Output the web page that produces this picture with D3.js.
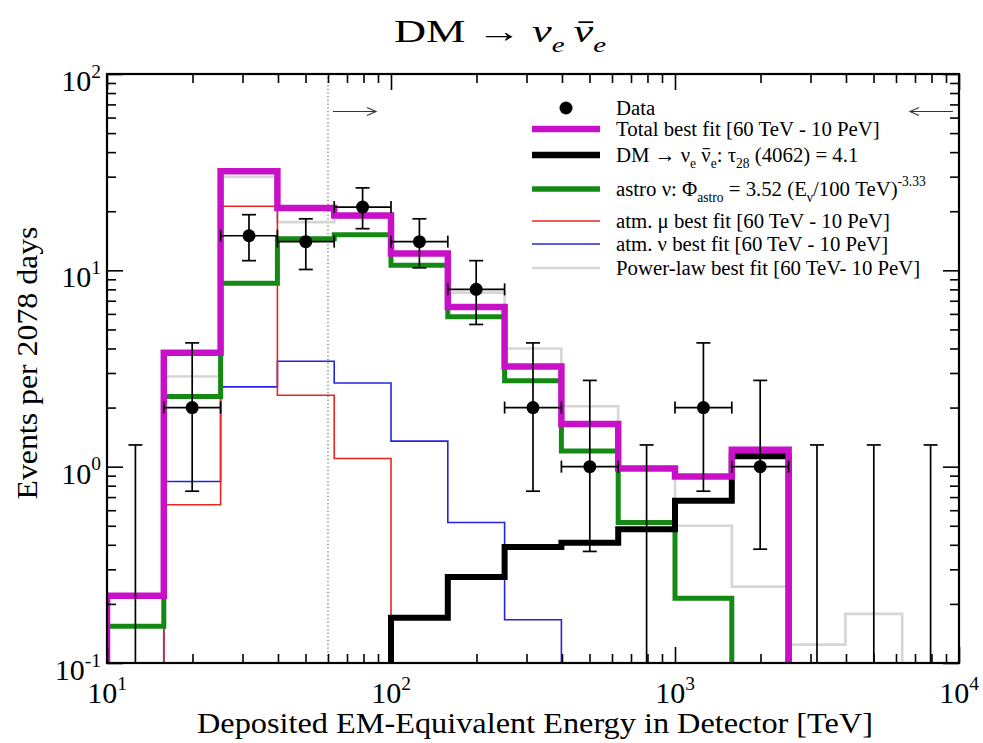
<!DOCTYPE html>
<html lang="en">
<head>
<meta charset="utf-8">
<script src="https://cdn.jsdelivr.net/npm/d3@7"></script>
<style>
  body { margin: 0; background: #fff; }
  text { font-family: "Liberation Serif", "Times New Roman", serif; fill: #000; }
</style>
</head>
<body>
<div id="chart"></div>
<script>
// bin edges in TeV (5 bins per decade)
var binEdges = [10, 15.85, 25.12, 39.81, 63.10, 100, 158.5, 251.2, 398.1, 631.0, 1000, 1585, 2512, 3981, 6310, 10000];
var binCenters = [12.59, 19.95, 31.62, 50.12, 79.43, 125.9, 199.5, 316.2, 501.2, 794.3, 1259, 1995, 3162, 5012, 7943];

// expected events per bin (0 = below the plotted range)
var totalFit = [0.22, 3.8, 32, 20.8, 19.0, 12.2, 6.5, 3.24, 1.65, 0.98, 0.89, 1.22, 0, 0, 0];
var dmFit    = [0, 0, 0, 0, 0, 0.17, 0.274, 0.39, 0.41, 0.48, 0.67, 1.13, 0, 0, 0];
var astroFit = [0.154, 2.28, 8.6, 14.5, 15.2, 10.6, 5.8, 2.74, 1.2, 0.52, 0.214, 0, 0, 0, 0];
var atmMu    = [0, 0.64, 21.2, 2.31, 1.1, 0, 0, 0, 0, 0, 0, 0, 0, 0, 0];
var atmNu    = [0, 0.84, 2.55, 3.44, 2.67, 1.35, 0.52, 0.166, 0, 0, 0, 0, 0, 0, 0];
var powerLaw = [0, 2.88, 29.9, 17.6, 18.5, 12, 7.7, 4.0, 2.03, 1.0, 0.50, 0.245, 0.124, 0.178, 0];

// observed events and error bars
var dataCounts = [0, 2, 15, 14, 21, 14, 8, 2, 1, 0, 2, 1, 0, 0, 0];
var errLow  = [0, 0.75, 11.2, 10.1, 16.3, 10.3, 5.3, 0.75, 0.37, 0, 0.75, 0.38, 0, 0, 0];
var errHigh = [1.29, 4.27, 19.2, 18.3, 26.3, 18.3, 11.2, 4.27, 2.75, 1.29, 4.27, 2.75, 1.29, 1.29, 1.29];

var fitRange = [60, 10000];
var xMajor = [10, 100, 1000, 10000];
var yMajor = [0.1, 1, 10, 100];
var xExp = ["1", "2", "3", "4"];
var yExp = ["-1", "0", "1", "2"];

var W = 983, H = 743;
var pL = 107, pR = 959, pT = 74, pB = 663;

var svg = d3.select("#chart").append("svg")
  .attr("width", W).attr("height", H);

var x = d3.scaleLog().domain([10, 10000]).range([pL, pR]);
var y = d3.scaleLog().domain([0.1, 100]).range([pB, pT]);

function yv(v) { return v > 0 ? y(v) : pB + 25; }

svg.append("clipPath").attr("id", "plotClip")
  .append("rect").attr("x", pL).attr("y", pT)
  .attr("width", pR - pL).attr("height", pB - pT);

// helper for text with sub/superscripts; returns tspans
function richText(sel, parts, size) {
  var cur = 0, spans = [];
  parts.forEach(function(p) {
    var shift = p.sub ? size * 0.32 : (p.sup ? -size * 0.45 : 0);
    var ts = sel.append("tspan").attr("dy", shift - cur).text(p.t);
    if (p.sub || p.sup) ts.attr("font-size", size * 0.65);
    if (p.it) ts.attr("font-style", "italic");
    cur = shift;
    spans.push(ts);
  });
  return spans;
}

// bar over a character (anti-neutrino)
function barOver(textSel, span, baseline, size, slant) {
  var node = span.node();
  var box = node.getExtentOfChar(0);
  var x0 = box.x + box.width * 0.15 + slant, x1 = box.x + box.width * 0.9 + slant;
  var yy = baseline - size * 0.62;
  svg.append("line").attr("x1", x0).attr("x2", x1).attr("y1", yy).attr("y2", yy)
    .attr("stroke", "#000").attr("stroke-width", size * 0.055);
}

// fit range marker
svg.append("line")
  .attr("x1", x(fitRange[0])).attr("x2", x(fitRange[0]))
  .attr("y1", pT).attr("y2", pB)
  .attr("stroke", "#444").attr("stroke-width", 1)
  .attr("stroke-dasharray", "1.2,2.5");

function arrow(x1, x2, yy) {
  var dir = x2 > x1 ? 1 : -1;
  var g = svg.append("g").attr("stroke", "#333").attr("stroke-width", 1.1).attr("fill", "none");
  g.append("line").attr("x1", x1).attr("x2", x2).attr("y1", yy).attr("y2", yy);
  g.append("path").attr("d", "M" + (x2 - dir * 9) + "," + (yy - 4) + "L" + x2 + "," + yy + "L" + (x2 - dir * 9) + "," + (yy + 4));
}
arrow(x(fitRange[0]) + 5, x(fitRange[0]) + 48, 111.5);
arrow(x(fitRange[1]) - 6, x(fitRange[1]) - 49, 111.5);

// histograms
var series = [
  { vals: powerLaw, color: "#d6d6d6", w: 2.6 },
  { vals: atmNu,    color: "#2424dc", w: 1.6 },
  { vals: atmMu,    color: "#e8261e", w: 1.6 },
  { vals: astroFit, color: "#148a14", w: 5 },
  { vals: dmFit,    color: "#000000", w: 6 },
  { vals: totalFit, color: "#c810c8", w: 6.5 }
];

var stepLine = d3.line()
  .x(function(d) { return x(d[0]); })
  .y(function(d) { return yv(d[1]); });

var histG = svg.append("g").attr("clip-path", "url(#plotClip)");
series.forEach(function(s) {
  var pts = [[binEdges[0], 0]];
  s.vals.forEach(function(v, i) {
    pts.push([binEdges[i], v], [binEdges[i + 1], v]);
  });
  pts.push([binEdges[binEdges.length - 1], 0]);
  histG.append("path")
    .attr("d", stepLine(pts))
    .attr("fill", "none")
    .attr("stroke", s.color)
    .attr("stroke-width", s.w)
    .attr("stroke-linejoin", "miter");
});

// data points with error bars
var dataG = svg.append("g").attr("stroke", "#000").attr("stroke-width", 1.7);
binCenters.forEach(function(c, i) {
  var cx = x(c);
  var yTop = y(errHigh[i]);
  if (dataCounts[i] > 0) {
    var yLow = y(errLow[i]), cy = y(dataCounts[i]);
    var xl = x(binEdges[i]), xr = x(binEdges[i + 1]);
    dataG.append("line").attr("x1", cx).attr("x2", cx).attr("y1", yLow).attr("y2", yTop);
    dataG.append("line").attr("x1", cx - 7).attr("x2", cx + 7).attr("y1", yLow).attr("y2", yLow);
    dataG.append("line").attr("x1", cx - 7).attr("x2", cx + 7).attr("y1", yTop).attr("y2", yTop);
    dataG.append("line").attr("x1", xl).attr("x2", xr).attr("y1", cy).attr("y2", cy);
    dataG.append("line").attr("x1", xl).attr("x2", xl).attr("y1", cy - 6).attr("y2", cy + 6);
    dataG.append("line").attr("x1", xr).attr("x2", xr).attr("y1", cy - 6).attr("y2", cy + 6);
    dataG.append("circle").attr("cx", cx).attr("cy", cy).attr("r", 6.5).attr("fill", "#000").attr("stroke", "none");
  } else {
    dataG.append("line").attr("x1", cx).attr("x2", cx).attr("y1", pB).attr("y2", yTop);
    dataG.append("line").attr("x1", cx - 7).attr("x2", cx + 7).attr("y1", yTop).attr("y2", yTop);
  }
});

// axes: inward ticks on all four sides
var xMinor = x.ticks().filter(function(t) { return xMajor.indexOf(t) < 0; });
var yMinor = y.ticks().filter(function(t) { return yMajor.indexOf(t) < 0; });

function addAxis(axisFn, scale, majors, minors, transform) {
  [[majors, -16], [minors, -9]].forEach(function(set) {
    svg.append("g").attr("transform", transform)
      .call(axisFn(scale).tickValues(set[0]).tickSize(set[1]).tickSizeOuter(0).tickFormat(""))
      .call(function(g) {
        g.select(".domain").remove();
        g.selectAll(".tick line").attr("stroke", "#000").attr("stroke-width", 1.6);
      });
  });
}
addAxis(d3.axisBottom, x, xMajor, xMinor, "translate(0," + pB + ")");
addAxis(d3.axisTop, x, xMajor, xMinor, "translate(0," + pT + ")");
addAxis(d3.axisLeft, y, yMajor, yMinor, "translate(" + pL + ",0)");
addAxis(d3.axisRight, y, yMajor, yMinor, "translate(" + pR + ",0)");

svg.append("rect")
  .attr("x", pL).attr("y", pT)
  .attr("width", pR - pL).attr("height", pB - pT)
  .attr("fill", "none").attr("stroke", "#000").attr("stroke-width", 2.2);

// tick labels
xMajor.forEach(function(v, i) {
  var t = svg.append("text").attr("x", x(v)).attr("y", 703)
    .attr("text-anchor", "middle").attr("font-size", 30);
  richText(t, [{ t: "10" }, { t: xExp[i], sup: true }], 30);
});
yMajor.forEach(function(v, i) {
  var t = svg.append("text").attr("x", 101).attr("y", y(v) + 17)
    .attr("text-anchor", "end").attr("font-size", 30);
  richText(t, [{ t: "10" }, { t: yExp[i], sup: true }], 30);
});

// axis titles
svg.append("text")
  .attr("x", 535).attr("y", 733)
  .attr("text-anchor", "middle").attr("font-size", 30)
  .attr("textLength", 676).attr("lengthAdjust", "spacingAndGlyphs")
  .text("Deposited EM-Equivalent Energy in Detector [TeV]");

svg.append("text")
  .attr("transform", "translate(37,363) rotate(-90)")
  .attr("text-anchor", "middle").attr("font-size", 30)
  .attr("textLength", 273).attr("lengthAdjust", "spacingAndGlyphs")
  .text("Events per 2078 days");

// title
var title = svg.append("text").attr("x", 500).attr("y", 42)
  .attr("text-anchor", "middle").attr("font-size", 32)
  .attr("textLength", 212).attr("lengthAdjust", "spacingAndGlyphs");
var tSpans = richText(title, [
  { t: "DM \u2192 " }, { t: "\u03BD", it: true }, { t: "e", it: true, sub: true },
  { t: "\u2009" }, { t: "\u03BD", it: true }, { t: "e", it: true, sub: true }
], 32);
barOver(title, tSpans[4], 42, 32, 2);

// legend
var legendRows = [
  { y: 108, dot: true },
  { y: 129, color: "#c810c8", w: 6.5 },
  { y: 155, color: "#000000", w: 6.5 },
  { y: 189, color: "#148a14", w: 5.5 },
  { y: 221, color: "#e8261e", w: 1.6 },
  { y: 244, color: "#2424dc", w: 1.6 },
  { y: 268, color: "#d6d6d6", w: 2.6 }
];
var legendLabels = [
  [{ t: "Data" }],
  [{ t: "Total best fit [60 TeV - 10 PeV]" }],
  [{ t: "DM \u2192 \u03BD" }, { t: "e", sub: true }, { t: " " }, { t: "\u03BD" }, { t: "e", sub: true },
   { t: ":  \u03C4" }, { t: "28", sub: true }, { t: " (4062) = 4.1" }],
  [{ t: "astro \u03BD: \u03A6" }, { t: "astro", sub: true }, { t: " = 3.52 (E" }, { t: "\u03BD", sub: true },
   { t: "/100 TeV)" }, { t: "-3.33", sup: true }],
  [{ t: "atm. \u03BC best fit [60 TeV - 10 PeV]" }],
  [{ t: "atm. \u03BD best fit [60 TeV - 10 PeV]" }],
  [{ t: "Power-law best fit [60 TeV- 10 PeV]" }]
];
var legFont = 20.8;
legendRows.forEach(function(r, i) {
  if (r.dot) {
    svg.append("circle").attr("cx", 566).attr("cy", r.y).attr("r", 6.5).attr("fill", "#000");
  } else {
    svg.append("line").attr("x1", 532).attr("x2", 600).attr("y1", r.y).attr("y2", r.y)
      .attr("stroke", r.color).attr("stroke-width", r.w);
  }
  var t = svg.append("text").attr("x", 616).attr("y", r.y + 6.5).attr("font-size", legFont);
  var spans = richText(t, legendLabels[i], legFont);
  if (i === 2) barOver(t, spans[3], r.y + 6.5, legFont, 0);
});
</script>
</body>
</html>
